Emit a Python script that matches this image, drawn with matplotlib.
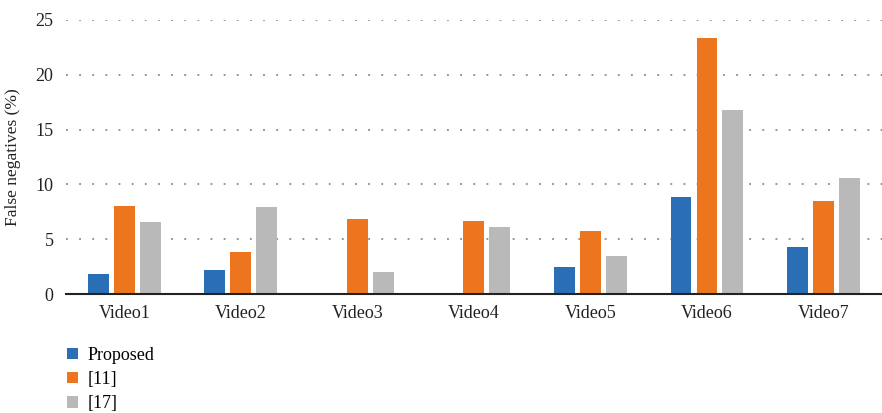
import matplotlib
matplotlib.use("Agg")
import matplotlib.pyplot as plt
import numpy as np

# data
videos = ["Video1", "Video2", "Video3", "Video4", "Video5", "Video6", "Video7"]
proposed = [1.8, 2.2, 0, 0, 2.5, 8.85, 4.3]
ref11 = [8.0, 3.8, 6.85, 6.65, 5.75, 23.35, 8.5]
ref17 = [6.6, 7.95, 2.0, 6.1, 3.5, 16.8, 10.6]
series_names = ["Proposed", "[11]", "[17]"]
colors = ["#2a6fb6", "#ec751e", "#b9b9b9"]

plt.rcParams["font.family"] = ["Liberation Serif", "DejaVu Serif"]

fig = plt.figure(figsize=(8.82, 4.13), dpi=100)
ax = fig.add_axes([0.0748, 0.288, 0.925, 0.664])

x = np.arange(len(videos))
off = 0.223
w = 0.18
bars = []
for i, (vals, name, c) in enumerate(zip([proposed, ref11, ref17], series_names, colors)):
    b = ax.bar(x + (i - 1) * off, vals, width=w, color=c, label=name, zorder=3)
    bars.append(b)

ax.set_xlim(-0.5, len(videos) - 0.5)
ax.set_ylim(0, 25)
ax.set_yticks([0, 5, 10, 15, 20, 25])
ax.set_xticks(x)
ax.set_xticklabels(videos)
ax.tick_params(axis="both", length=0, labelsize=13, colors="#222222")
ax.tick_params(axis="x", pad=8)
ax.tick_params(axis="y", pad=9)
ax.yaxis.grid(True, linestyle=(0, (1.2, 7.4)), color="#777777", linewidth=1.1, zorder=0)
for s in ["top", "right", "left"]:
    ax.spines[s].set_visible(False)
ax.spines["bottom"].set_color("#222222")
ax.spines["bottom"].set_linewidth(1.5)
ax.spines["bottom"].set_zorder(4)
ax.set_ylabel("False negatives (%)", fontsize=12.5, color="#222222", labelpad=10)

fig.legend(handles=bars, labels=series_names, loc="upper left",
           bbox_to_anchor=(0.068, 0.178), frameon=False, fontsize=13,
           handlelength=0.6, handleheight=0.6, handletextpad=0.55,
           labelspacing=0.4, borderaxespad=0)

fig.savefig("out.png", dpi=100)
